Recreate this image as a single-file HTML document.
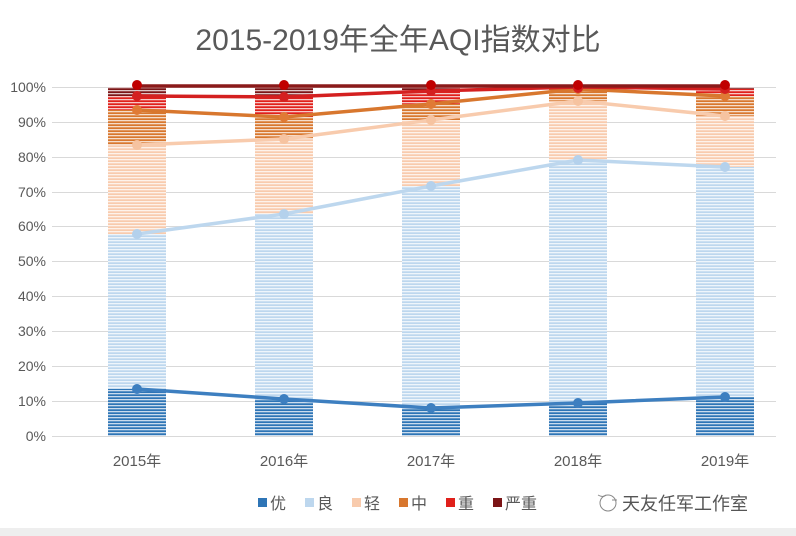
<!DOCTYPE html>
<html><head><meta charset="utf-8"><style>
html,body{margin:0;padding:0;background:#fff;}
svg{display:block;font-family:"Liberation Sans","Noto Sans CJK SC",sans-serif;}
</style></head><body>
<svg width="796" height="536" viewBox="0 0 796 536">
<defs>
<pattern id="st" width="4" height="3" patternUnits="userSpaceOnUse"><rect width="4" height="1.3" fill="#fff" opacity="0.75"/></pattern>
<linearGradient id="fade" x1="0" y1="0" x2="0" y2="1"><stop offset="0" stop-color="#fff" stop-opacity="0.45"/><stop offset="1" stop-color="#fff" stop-opacity="0"/></linearGradient>
</defs>
<rect width="796" height="536" fill="#fff"/>
<rect x="0" y="528" width="796" height="8" fill="#eee"/>
<text x="398" y="50" text-anchor="middle" font-size="30" fill="#595959">2015-2019年全年AQI指数对比</text>
<g stroke="#d9d9d9" stroke-width="1">
<line x1="52" x2="776" y1="436.5" y2="436.5"/><line x1="52" x2="776" y1="401.5" y2="401.5"/><line x1="52" x2="776" y1="366.5" y2="366.5"/><line x1="52" x2="776" y1="331.5" y2="331.5"/><line x1="52" x2="776" y1="296.5" y2="296.5"/><line x1="52" x2="776" y1="261.5" y2="261.5"/><line x1="52" x2="776" y1="226.5" y2="226.5"/><line x1="52" x2="776" y1="192.5" y2="192.5"/><line x1="52" x2="776" y1="157.5" y2="157.5"/><line x1="52" x2="776" y1="122.5" y2="122.5"/><line x1="52" x2="776" y1="87.5" y2="87.5"/>
</g>
<g font-size="14" fill="#595959" text-anchor="end">
<text x="46" y="441">0%</text><text x="46" y="406">10%</text><text x="46" y="371">20%</text><text x="46" y="336">30%</text><text x="46" y="301">40%</text><text x="46" y="266">50%</text><text x="46" y="231">60%</text><text x="46" y="197">70%</text><text x="46" y="162">80%</text><text x="46" y="127">90%</text><text x="46" y="92">100%</text>
</g>
<g font-size="15" fill="#595959" text-anchor="middle">
<text x="137" y="466">2015年</text><text x="284" y="466">2016年</text><text x="431" y="466">2017年</text><text x="578" y="466">2018年</text><text x="725" y="466">2019年</text>
</g>
<!-- bars: y(p)=436-3.49p -->
<g id="bars">
<!-- 2015 -->
<rect x="108" y="389" width="58" height="47" fill="#2e75b6"/>
<rect x="108" y="234" width="58" height="155" fill="#bdd7ee"/>
<rect x="108" y="145" width="58" height="89" fill="#f8cbad"/>
<rect x="108" y="110" width="58" height="35" fill="#d8772e"/>
<rect x="108" y="96" width="58" height="14" fill="#e0201b"/>
<rect x="108" y="87" width="58" height="9" fill="#7b1416"/>
<!-- 2016 -->
<rect x="255" y="399" width="58" height="37" fill="#2e75b6"/>
<rect x="255" y="214" width="58" height="185" fill="#bdd7ee"/>
<rect x="255" y="139" width="58" height="75" fill="#f8cbad"/>
<rect x="255" y="117" width="58" height="22" fill="#d8772e"/>
<rect x="255" y="97" width="58" height="20" fill="#e0201b"/>
<rect x="255" y="87" width="58" height="10" fill="#7b1416"/>
<!-- 2017 -->
<rect x="402" y="408" width="58" height="28" fill="#2e75b6"/>
<rect x="402" y="186" width="58" height="222" fill="#bdd7ee"/>
<rect x="402" y="120" width="58" height="66" fill="#f8cbad"/>
<rect x="402" y="104" width="58" height="16" fill="#d8772e"/>
<rect x="402" y="91" width="58" height="13" fill="#e0201b"/>
<rect x="402" y="87" width="58" height="4" fill="#7b1416"/>
<!-- 2018 -->
<rect x="549" y="403" width="58" height="33" fill="#2e75b6"/>
<rect x="549" y="160" width="58" height="243" fill="#bdd7ee"/>
<rect x="549" y="101" width="58" height="59" fill="#f8cbad"/>
<rect x="549" y="89" width="58" height="12" fill="#d8772e"/>
<rect x="549" y="87" width="58" height="2" fill="#e0201b"/>
<!-- 2019 -->
<rect x="696" y="397" width="58" height="39" fill="#2e75b6"/>
<rect x="696" y="167" width="58" height="230" fill="#bdd7ee"/>
<rect x="696" y="116" width="58" height="51" fill="#f8cbad"/>
<rect x="696" y="96" width="58" height="20" fill="#d8772e"/>
<rect x="696" y="89" width="58" height="7" fill="#e0201b"/>
<rect x="696" y="87" width="58" height="2" fill="#7b1416"/>
</g>
<g>
<rect x="108" y="87" width="58" height="349" fill="url(#st)"/>
<rect x="255" y="87" width="58" height="349" fill="url(#st)"/>
<rect x="402" y="87" width="58" height="349" fill="url(#st)"/>
<rect x="549" y="87" width="58" height="349" fill="url(#st)"/>
<rect x="696" y="87" width="58" height="349" fill="url(#st)"/>
</g>
<!-- lines -->
<g fill="none" stroke-width="3.5" stroke-linejoin="round">
<polyline stroke="#3d7fc0" points="137,389 284,399 431,408 578,403 725,397"/>
<polyline stroke="#bdd7ee" points="137,234 284,214 431,186 578,160 725,167"/>
<polyline stroke="#f8cbad" points="137,145 284,139 431,120 578,101 725,116"/>
<polyline stroke="#d8772e" points="137,110 284,117 431,104 578,89 725,96"/>
<polyline stroke="#d42020" points="137,96 284,97 431,91 578,87 725,89"/>
<polyline stroke="#8b1a1a" points="137,86 284,86 431,86 578,86 725,86"/>
</g>
<g>
<g fill="#3d7fc0"><circle cx="137" cy="389" r="5"/><circle cx="284" cy="399" r="5"/><circle cx="431" cy="408" r="5"/><circle cx="578" cy="403" r="5"/><circle cx="725" cy="397" r="5"/></g>
<g fill="#b4d1ec"><circle cx="137" cy="234" r="5"/><circle cx="284" cy="214" r="5"/><circle cx="431" cy="186" r="5"/><circle cx="578" cy="160" r="5"/><circle cx="725" cy="167" r="5"/></g>
<g fill="#f6c3a0"><circle cx="137" cy="145" r="5"/><circle cx="284" cy="139" r="5"/><circle cx="431" cy="120" r="5"/><circle cx="578" cy="101" r="5"/><circle cx="725" cy="116" r="5"/></g>
<g fill="#e07a35"><circle cx="137" cy="110" r="5"/><circle cx="284" cy="117" r="5"/><circle cx="431" cy="104" r="5"/><circle cx="578" cy="89" r="5"/><circle cx="725" cy="96" r="5"/></g>
<g fill="#d42020"><circle cx="137" cy="96" r="5"/><circle cx="284" cy="97" r="5"/><circle cx="431" cy="91" r="5"/><circle cx="578" cy="88" r="5"/><circle cx="725" cy="89" r="5"/></g>
<g fill="#c00000"><circle cx="137" cy="85" r="5"/><circle cx="284" cy="85" r="5"/><circle cx="431" cy="85" r="5"/><circle cx="578" cy="85" r="5"/><circle cx="725" cy="85" r="5"/></g>
</g>
<!-- legend -->
<g font-size="16" fill="#595959">
<rect x="258" y="498" width="9" height="9" fill="#2e75b6"/><text x="270" y="509">优</text>
<rect x="305" y="498" width="9" height="9" fill="#bdd7ee"/><text x="317" y="509">良</text>
<rect x="352" y="498" width="9" height="9" fill="#f8cbad"/><text x="364" y="509">轻</text>
<rect x="399" y="498" width="9" height="9" fill="#d8772e"/><text x="411" y="509">中</text>
<rect x="446" y="498" width="9" height="9" fill="#e0201b"/><text x="458" y="509">重</text>
<rect x="493" y="498" width="9" height="9" fill="#7b1416"/><text x="505" y="509">严重</text>
</g>
<g stroke="#888" fill="none" stroke-width="1"><circle cx="608" cy="503" r="8"/><path d="M598 495 q5 3 8 0 M612 500 l5 0"/></g>
<text x="622" y="510" font-size="18" fill="#555">天友任军工作室</text>
</svg>
</body></html>
